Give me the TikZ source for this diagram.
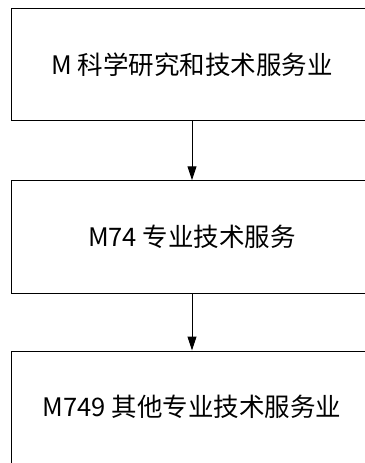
\documentclass[tikz,border=0pt]{standalone}
\usepackage{fontspec}
\setmainfont{Noto Sans CJK SC}
\usetikzlibrary{arrows.meta}
\begin{document}
\begin{tikzpicture}[x=1pt,y=1pt,
  box/.style={draw=black, line width=1pt, rectangle, minimum width=361pt, minimum height=112.5pt, inner sep=0pt, font=\fontsize{25.5}{30}\selectfont},
  conn/.style={line width=1pt, -{Triangle[length=14pt,width=9pt]}}]
\useasboundingbox (0,0) rectangle (364,-463);
\node[box] (a) at (192,-64.25) {M 科学研究和技术服务业};
\node[box] (b) at (192,-237) {M74 专业技术服务};
\node[box] (c) at (192,-407.25) {M749 其他专业技术服务业};
\draw[conn] (a.south) -- (b.north);
\draw[conn] (b.south) -- (c.north);
\end{tikzpicture}
\end{document}
